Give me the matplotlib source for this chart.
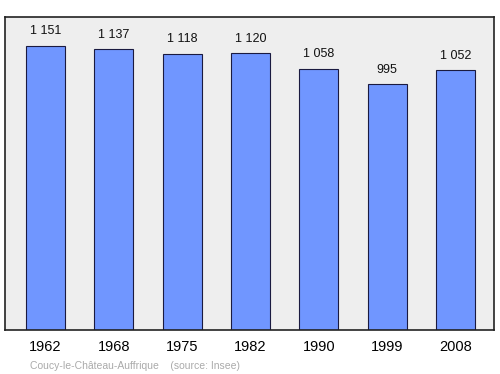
import matplotlib
matplotlib.use("Agg")
import matplotlib.pyplot as plt

years = ["1962", "1968", "1975", "1982", "1990", "1999", "2008"]
population = [1151, 1137, 1118, 1120, 1058, 995, 1052]
labels = ["1 151", "1 137", "1 118", "1 120", "1 058", "995", "1 052"]

plt.rcParams["font.family"] = ["Liberation Sans", "DejaVu Sans"]

fig = plt.figure(figsize=(5.0, 3.74), dpi=100)
ax = fig.add_axes([0.01, 0.1176, 0.978, 0.837])
ax.set_facecolor("#eeeeee")

x = list(range(len(years)))
ax.bar(x, population, width=0.57, color="#7096ff", edgecolor="#1a1a40", linewidth=0.8, zorder=2)
for xi, v, lab in zip(x, population, labels):
    ax.annotate(lab, (xi, v), xytext=(0, 6), textcoords="offset points",
                ha="center", va="bottom", fontsize=9, color="#111111")

ax.set_xlim(-0.59, 6.56)
ax.set_ylim(0, 1267)
ax.set_yticks([])
ax.set_xticks(x)
ax.set_xticklabels(years, fontsize=10.5)
ax.tick_params(axis="x", length=0, pad=7)
for s in ax.spines.values():
    s.set_color("#222222")
    s.set_linewidth(1.2)

fig.text(0.06, 0.008, "Coucy-le-Château-Auffrique    (source: Insee)",
         fontsize=7.5, color="#aaaaaa", ha="left", va="bottom")

fig.savefig("out.png", dpi=100)
